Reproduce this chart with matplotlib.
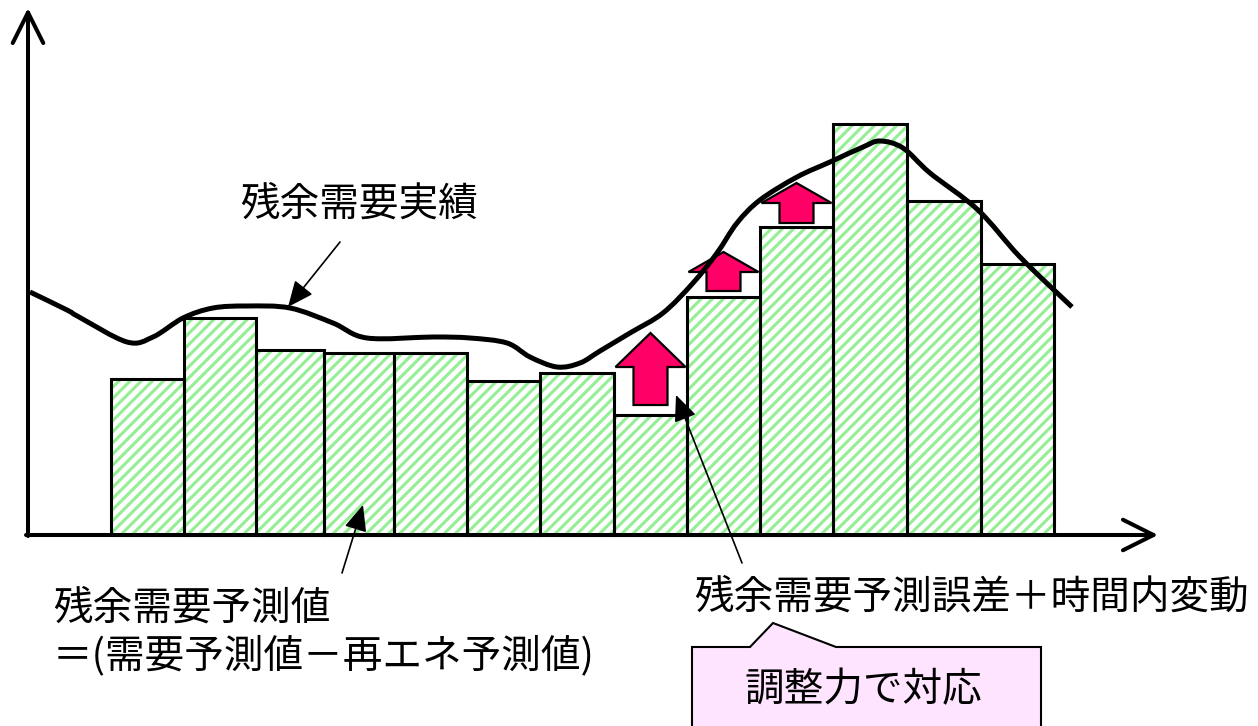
import numpy as np
import matplotlib
matplotlib.use("Agg")
import matplotlib.pyplot as plt
from matplotlib.patches import FancyArrow, Polygon, PathPatch
from matplotlib.path import Path

plt.rcParams['font.family'] = ['Noto Sans CJK JP', 'DejaVu Sans']
plt.rcParams['hatch.linewidth'] = 2.2

# time slot boundaries and forecast (residual demand forecast) per slot
slot_edges = [111, 184, 256, 324, 394, 467, 540, 614, 687, 760, 833, 907, 981, 1054]
forecast = [156, 217, 185, 182, 182, 154, 162, 120, 238, 308, 411, 334, 271]

actual_x = [30, 67, 79, 127, 153, 183, 213, 247, 290, 333, 367, 433, 470, 507,
            530, 557, 580, 600, 630, 663, 693, 717, 737, 760, 797, 830, 863,
            880, 903, 930, 978, 1020, 1072]
actual_y = [243, 225, 218, 193, 198, 217, 227, 229, 227, 212, 197, 198, 197, 192,
            178, 168, 172, 184, 202, 222, 252, 282, 312, 335, 358, 373, 388,
            394, 387, 362, 325, 278, 228]

# forecast error + intra-period variation (upward arrows)
err_slots = [7, 8, 9]
err_low = [130, 244, 312]
err_high = [202, 283, 352]
err_head = [34, 20, 20]


def smooth_path(xs, ys):
    # bezier path through the points (catmull-rom tangents)
    p = np.column_stack([xs, ys]).astype(float)
    ext = np.vstack([p[0], p, p[-1]])
    verts = [p[0]]
    codes = [Path.MOVETO]
    for i in range(len(p) - 1):
        a, b, c, d = ext[i], ext[i + 1], ext[i + 2], ext[i + 3]
        verts += [b + (c - a) / 6, c - (d - b) / 6, c]
        codes += [Path.CURVE4] * 3
    return Path(verts, codes)


fig = plt.figure(figsize=(12.58, 7.26), dpi=100)
ax = fig.add_axes([0, 0, 1, 1])
ax.set_xlim(0, 1258)
ax.set_ylim(-191, 535)
ax.axis('off')

left = np.array(slot_edges[:-1])
width = np.diff(slot_edges)

# hatched fill, then black outline
ax.bar(left, forecast, width=width, align='edge', facecolor='white',
       edgecolor='#94ee94', linewidth=0, hatch='///', zorder=2)
ax.bar(left, forecast, width=width, align='edge', facecolor='none',
       edgecolor='black', linewidth=2.2, zorder=3)

# red block arrows
for i, lo, hi, hl in zip(err_slots, err_low, err_high, err_head):
    cx = left[i] + width[i] / 2
    arr = FancyArrow(cx, lo, 0, hi - lo, width=34, head_width=70, head_length=hl,
                     length_includes_head=True, facecolor='#ff0066',
                     edgecolor='black', linewidth=1.6, zorder=4)
    ax.add_patch(arr)

curve = PathPatch(smooth_path(actual_x, actual_y), facecolor='none',
                  edgecolor='black', linewidth=3.6, capstyle='butt',
                  joinstyle='round', zorder=5)
ax.add_patch(curve)

# axes with open arrow heads
axis_style = dict(arrowstyle='->,head_length=1.1,head_width=0.55', lw=2.9,
                  color='black', shrinkA=0, shrinkB=0, mutation_scale=20)
ax.annotate('', xy=(28, 527), xytext=(28, -1), arrowprops=axis_style, zorder=6)
ax.annotate('', xy=(1158, 0), xytext=(26, 0), arrowprops=axis_style, zorder=6)

fs = 28.5
thin = dict(arrowstyle='-|>,head_length=0.8,head_width=0.35', lw=1.2,
            color='black', shrinkA=0, shrinkB=0, mutation_scale=20)

ax.text(359, 330, '残余需要実績', fontsize=fs, ha='center', va='center')
ax.annotate('', xy=(288, 228), xytext=(340, 293), arrowprops=thin, zorder=6)

ax.text(53, -74, '残余需要予測値', fontsize=fs, ha='left', va='center')
ax.text(53, -121, '＝(需要予測値－再エネ予測値)', fontsize=fs, ha='left', va='center')
ax.annotate('', xy=(363, 30), xytext=(342, -38), arrowprops=thin, zorder=6)

ax.text(694, -63, '残余需要予測誤差＋時間内変動', fontsize=fs, ha='left', va='center')
ax.annotate('', xy=(676, 140), xytext=(742, -28), arrowprops=thin, zorder=6)

# callout box
box = Polygon([(692, -200), (692, -112), (750, -112), (773, -88), (836, -112),
               (1041, -112), (1041, -200)], closed=True, facecolor='#ffe4ff',
              edgecolor='black', linewidth=1.5, zorder=4)
ax.add_patch(box)
ax.text(863, -155, '調整力で対応', fontsize=fs, ha='center', va='center', zorder=5)

fig.savefig('out.png', dpi=100)
